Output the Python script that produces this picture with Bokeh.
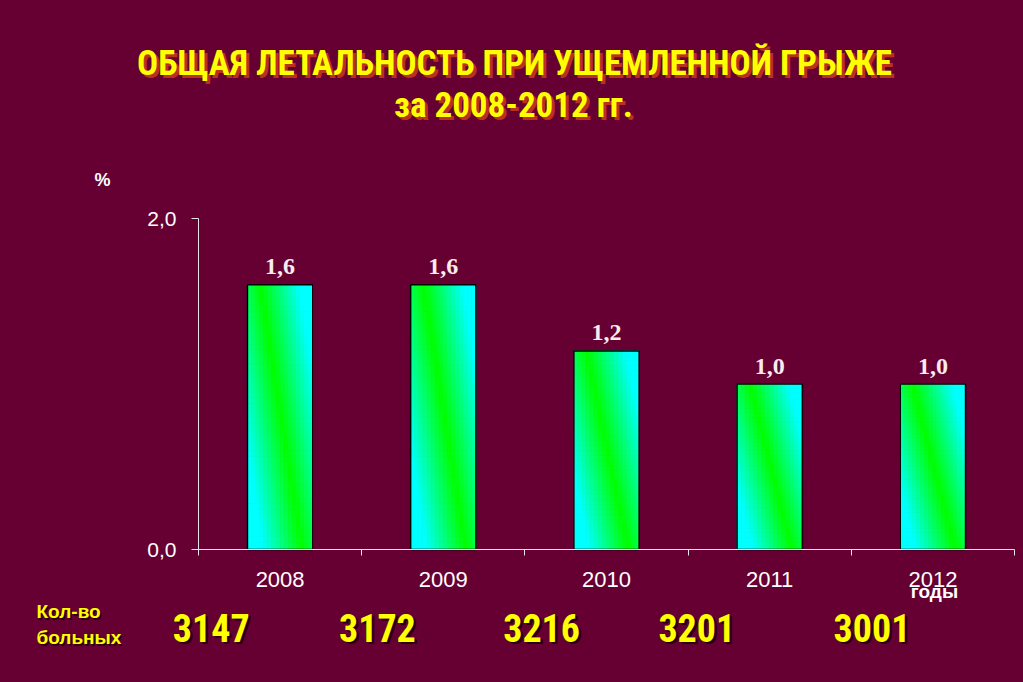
from bokeh.plotting import figure
from bokeh.models import Range1d, FixedTicker, ColumnDataSource
from bokeh.core.properties import value
from bokeh.embed import file_html
from bokeh.resources import INLINE

# ---- data ----
years = ["2008", "2009", "2010", "2011", "2012"]
lethality = [1.6, 1.6, 1.2, 1.0, 1.0]
patients = [3147, 3172, 3216, 3201, 3001]
y_tick_values = [0.0, 2.0]
title_lines = ["ОБЩАЯ ЛЕТАЛЬНОСТЬ ПРИ УЩЕМЛЕННОЙ ГРЫЖЕ", "за  2008-2012 гг."]
row_label = ["Кол-во", "больных"]

# layout only: horizontal pixel nudges of the patient counts (as placed on the slide)
count_nudge_px = [-2, 1, 2, -6, 6]

BG = "#660033"
W, H = 1023, 682
# pixel geometry of the value area (x: -0.5..4.5, y: 0..2)
PX0, PX1, PY0, PY1 = 198, 1014, 549, 218
SX = (PX1 - PX0) / 5.0
SY = (PY0 - PY1) / 2.0


def dx(px):
    return -0.5 + (px - PX0) / SX


def dy(py):
    return (PY0 - py) / SY


p = figure(width=W, height=H, x_range=Range1d(dx(0), dx(W)), y_range=Range1d(dy(H), dy(0)),
           output_backend="svg", toolbar_location=None, min_border=0)
p.background_fill_color = BG
p.border_fill_color = BG
p.outline_line_color = None
p.grid.grid_line_color = None

idx = list(range(len(years)))

# ---- gradient bars (grid of small quads) ----
bw = 0.40
ncol, nrow = 16, 40
left, right, bottom, top, colors = [], [], [], [], []
for i, v in zip(idx, lethality):
    for c in range(ncol):
        u0, u1 = c / ncol, (c + 1) / ncol
        uc = (u0 + u1) / 2
        for r in range(nrow):
            v0, v1 = r / nrow, (r + 1) / nrow
            vc = (v0 + v1) / 2
            d = abs(uc - (0.85 - 0.65 * vc))
            t = min(d / 0.6, 1.0)
            colors.append("#%02x%02x%02x" % (0, 255, int(round(255 * t))))
            left.append(i - bw / 2 + u0 * bw)
            right.append(i - bw / 2 + u1 * bw)
            bottom.append(v * v0)
            top.append(v * v1)
grad = ColumnDataSource(dict(left=left, right=right, bottom=bottom, top=top, color=colors))
p.quad(left="left", right="right", bottom="bottom", top="top", source=grad,
       fill_color="color", line_color="color", line_width=1)
p.vbar(x=idx, top=lethality, width=bw, fill_color=None, line_color="black", line_width=1.5)

# value labels
vals = ColumnDataSource(dict(x=idx, y=lethality,
                             t=[f"{v:.1f}".replace(".", ",") for v in lethality]))
p.text(x="x", y="y", text="t", source=vals, text_align="center", text_baseline="middle",
       y_offset=-18, text_font=value("Liberation Serif"), text_font_style="bold",
       text_font_size="24px", text_color="#f8ecec")

# ---- axes (real axes, drawn at fixed data locations) ----
p.xaxis.fixed_location = 0.0
p.xaxis.bounds = (-0.5, 4.5)
p.xaxis.ticker = FixedTicker(ticks=idx, minor_ticks=[i - 0.5 for i in range(len(years) + 1)])
p.xaxis.major_label_overrides = {i: y for i, y in zip(idx, years)}
p.xaxis.axis_line_color = "#e6e6e6"
p.xaxis.major_tick_out = 0
p.xaxis.major_tick_in = 0
p.xaxis.minor_tick_out = 6
p.xaxis.minor_tick_in = 0
p.xaxis.minor_tick_line_color = "#e6e6e6"
p.xaxis.major_label_standoff = 16
p.xaxis.major_label_text_color = "#ffffff"
p.xaxis.major_label_text_font = "Liberation Sans"
p.xaxis.major_label_text_font_size = "22px"

p.yaxis.fixed_location = -0.5
p.yaxis.bounds = (0.0, 2.0)
p.yaxis.ticker = FixedTicker(ticks=y_tick_values, minor_ticks=[])
p.yaxis.major_label_overrides = {v: f"{v:.1f}".replace(".", ",") for v in y_tick_values}
p.yaxis.axis_line_color = "#e6e6e6"
p.yaxis.major_tick_line_color = "#e6e6e6"
p.yaxis.major_tick_out = 7
p.yaxis.major_tick_in = 0
p.yaxis.minor_tick_line_color = None
p.yaxis.major_label_standoff = 15
p.yaxis.major_label_text_color = "#ffffff"
p.yaxis.major_label_text_font = "Liberation Sans"
p.yaxis.major_label_text_font_size = "21px"

# ---- texts (text glyphs inside the full-canvas frame) ----
COND = "Roboto Condensed"


def shadow_text(texts, xs, ys, size, color, shadow, font, align="center", off=2.5):
    src = ColumnDataSource(dict(x=xs, y=ys, t=texts))
    for col, o in ((shadow, off), (color, 0)):
        p.text(x="x", y="y", text="t", source=src, x_offset=o, y_offset=o,
               text_font=value(font), text_font_style="bold", text_font_size=size,
               text_color=col, text_align=align, text_baseline="middle")


shadow_text(title_lines, [dx(514), dx(517)], [dy(63), dy(105)], "35px", "#ffff00", "#b8321e",
            COND, off=3)

p.text(x=[dx(102)], y=[dy(179)], text=["%"], text_font=value("Liberation Sans"),
       text_font_style="bold", text_font_size="18px", text_color="#ffffff",
       text_align="center", text_baseline="middle")
p.text(x=[dx(934)], y=[dy(591)], text=["годы"], text_font=value("Liberation Sans"),
       text_font_style="bold", text_font_size="19px", text_color="#ffffff",
       text_align="center", text_baseline="middle")

shadow_text(row_label, [dx(36), dx(36)], [dy(611), dy(637)], "19px", "#ffff00", "#2a0010",
            "Liberation Sans", align="left", off=1.5)

shadow_text([str(n) for n in patients], [i - 0.41 + n / SX for i, n in zip(idx, count_nudge_px)],
            [dy(627)] * len(idx), "38px", "#ffff00", "#2a0010", COND, off=2.5)

html = file_html(p, INLINE, title="chart")
html = html.replace("<head>", "<head><style>html,body{background:%s;margin:0;padding:0;}</style>" % BG, 1)
open("out.html", "w").write(html)
